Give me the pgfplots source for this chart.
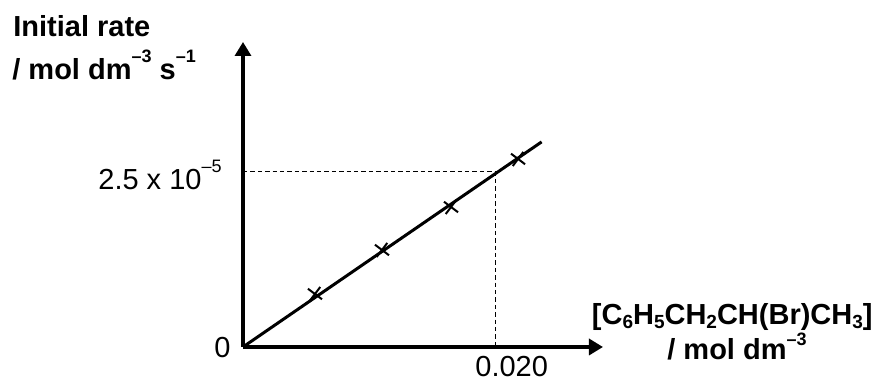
\documentclass[border=0pt]{standalone}
\usepackage{fontspec}
\setmainfont{Liberation Sans}
\usepackage{pgfplots}
\pgfplotsset{compat=1.18}
\usetikzlibrary{arrows.meta}
\newcommand\sups[1]{\raisebox{0.6em}{\fontsize{9}{9}\selectfont #1}}
\newcommand\subs[1]{\raisebox{-0.12em}{\fontsize{9.5}{9.5}\selectfont #1}}
\begin{document}
\begin{tikzpicture}
\fontsize{14.5}{17}\selectfont
\useasboundingbox (-121.5pt,-18pt) rectangle (318pt,173.5pt);
\begin{axis}[
  at={(0,0)}, anchor=south west,
  scale only axis, width=180pt, height=152.5pt,
  xmin=0, xmax=0.028571, ymin=0, ymax=4.357,
  axis x line=bottom, axis y line=left,
  axis line style={line width=1.65pt, -{Triangle[length=7pt,width=8pt]}},
  xtick=\empty, ytick=\empty,
  clip=false,
]
\addplot[black, line width=0.5pt, dash pattern=on 2.2pt off 1.5pt] coordinates {(0,2.5) (0.020,2.5) (0.020,0)};
\addplot[black, line width=1.5pt] coordinates {(0,0) (0.0237,2.93)};
\addplot[only marks, mark=x, mark size=4.4pt, mark options={line width=1pt, rotate=8}, black]
  coordinates {(0.00571,0.757) (0.01103,1.386) (0.01651,2.0) (0.02183,2.686)};
\end{axis}
\draw[line width=2.3pt] (0,75pt) -- (0,100pt);
\node[anchor=base west, inner sep=0pt, font=\bfseries] at (-115pt,155pt) {Initial rate};
\node[anchor=base west, inner sep=0pt, font=\bfseries] at (-115.5pt,133.5pt) {/ mol dm\sups{--3} s\sups{--1}};
\node[anchor=base west, inner sep=0pt] at (-72.5pt,78.5pt) {2.5 x 10\sups{--5}};
\node[anchor=base east, inner sep=0pt] at (-6pt,-5.5pt) {0};
\node[anchor=base west, inner sep=0pt] at (116pt,-15pt) {0.020};
\node[anchor=base east, inner sep=0pt, font=\bfseries] at (315pt,11pt) {[C\subs{6}H\subs{5}CH\subs{2}CH(Br)CH\subs{3}]};
\node[anchor=base west, inner sep=0pt, font=\bfseries] at (212pt,-6.5pt) {/ mol dm\raisebox{0.5em}{\fontsize{9}{9}\selectfont --3}};
\end{tikzpicture}
\end{document}
